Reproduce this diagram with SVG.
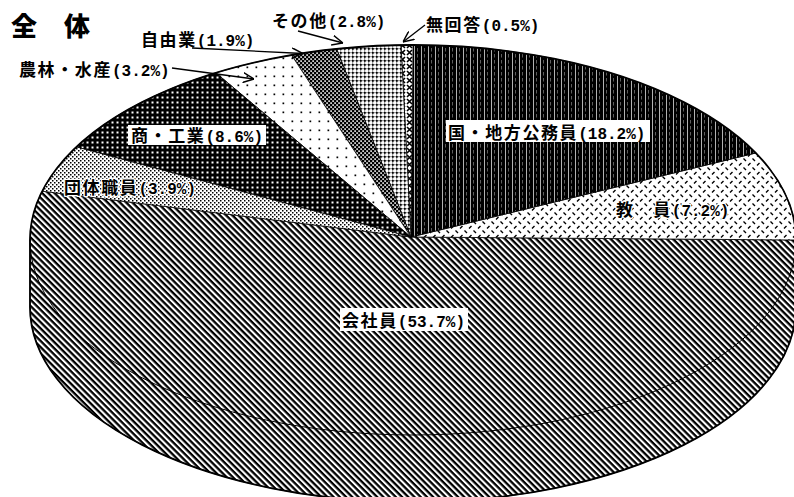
<svg xmlns="http://www.w3.org/2000/svg" width="794" height="497" viewBox="0 0 794 497">
<defs>
<pattern id="pKaisha" width="4.4" height="4.4" patternUnits="userSpaceOnUse" patternTransform="rotate(45)"><rect width="4.4" height="4.4" fill="#fff"/><rect width="4.4" height="2.3" fill="#000"/></pattern>
<pattern id="pKyoin" width="9" height="9" patternUnits="userSpaceOnUse"><rect width="9" height="9" fill="#fff"/><path d="M1,3.5 L3.5,1 M5.5,5.5 L8,8" stroke="#000" stroke-width="1.4" fill="none"/></pattern>
<pattern id="pKoumu" width="7" height="6" patternUnits="userSpaceOnUse"><rect width="7" height="6" fill="#000"/><rect x="1" width="0.7" height="6" fill="#fff"/><rect x="4.3" y="0" width="0.5" height="3.5" fill="#bbb"/></pattern>
<pattern id="pMukai" width="7" height="7" patternUnits="userSpaceOnUse"><rect width="7" height="7" fill="#fff"/><path d="M1,1 L6,6 M6,1 L1,6" stroke="#000" stroke-width="1.6"/></pattern>
<pattern id="pSonota" width="4" height="4" patternUnits="userSpaceOnUse"><rect width="4" height="4" fill="#fff"/><rect width="1.7" height="1.7" fill="#000"/><rect x="0" y="0.6" width="4" height="0.5" fill="#000"/><rect x="0.6" y="0" width="0.5" height="4" fill="#000"/></pattern>
<pattern id="pJiyu" width="4" height="4" patternUnits="userSpaceOnUse"><rect width="4" height="4" fill="#000"/><rect x="0.3" y="0.3" width="1.6" height="1.6" fill="#fff"/><rect x="2.3" y="2.3" width="1.6" height="1.6" fill="#fff"/></pattern>
<pattern id="pNorin" width="9" height="9" patternUnits="userSpaceOnUse"><rect width="9" height="9" fill="#fff"/><rect x="3.5" y="3.5" width="1.7" height="1.7" fill="#000"/></pattern>
<pattern id="pShoko" width="5" height="5" patternUnits="userSpaceOnUse"><rect width="5" height="5" fill="#000"/><rect x="1.5" y="1.5" width="2" height="2" fill="#fff"/></pattern>
<pattern id="pDantai" width="4" height="4" patternUnits="userSpaceOnUse"><rect width="4" height="4" fill="#fff"/><rect width="1.5" height="1.5" fill="#000"/><rect x="2" y="2" width="1.5" height="1.5" fill="#000"/></pattern>
<marker id="arr" viewBox="0 0 10 10" refX="10" refY="5" markerWidth="11" markerHeight="11" markerUnits="userSpaceOnUse" orient="auto"><path d="M0,0.5 L10,5 L0,9.5" fill="none" stroke="#000" stroke-width="1.3"/></marker>
</defs>
<style>
.slice{stroke:#000;stroke-width:0.8;stroke-linejoin:round}
.lbl{font-family:"Noto Sans CJK JP","Noto Sans CJK SC",sans-serif;font-weight:bold;font-size:17px;letter-spacing:1.6px;fill:#000}
.num{font-family:"Liberation Mono","DejaVu Sans Mono",monospace;font-weight:bold;font-size:16px;letter-spacing:0}
.halo{stroke:#fff;stroke-width:2.5px;paint-order:stroke;stroke-linejoin:round}
.box{fill:#fff}
.lead{stroke:#000;stroke-width:1.3;fill:none}
.title{font-family:"Noto Sans CJK JP","Noto Sans CJK SC",sans-serif;font-weight:900;font-size:26px;fill:#000}
</style>
<rect width="794" height="497" fill="#fff"/>
<text class="title" x="11 39 64" y="36">全 体</text>
<g id="slice-kaishain"><path class="slice" fill="url(#pKaisha)" d="M411,237 L42.2,191.2 A383,195 0 0,0 30,240 L30,307 A383,195 0 0,0 796,307 L796,240 Z"/></g>
<g id="slice-kyoin"><path class="slice" fill="url(#pKyoin)" d="M411,237 L796,240 A383,195 0 0,0 755.7,153 Z"/></g>
<g id="slice-koumuin"><path class="slice" fill="url(#pKoumu)" d="M411,237 L755.7,153 A383,195 0 0,0 413,45 Z"/></g>
<g id="slice-mukaito"><path class="slice" fill="url(#pMukai)" d="M411,237 L413,45 A383,195 0 0,0 401,45.1 Z"/></g>
<g id="slice-sonota"><path class="slice" fill="url(#pSonota)" d="M411,237 L401,45.1 A383,195 0 0,0 336.6,48.9 Z"/></g>
<g id="slice-jiyugyo"><path class="slice" fill="url(#pJiyu)" d="M411,237 L336.6,48.9 A383,195 0 0,0 291.5,55.1 Z"/></g>
<g id="slice-norin"><path class="slice" fill="url(#pNorin)" d="M411,237 L291.5,55.1 A383,195 0 0,0 215.8,72.8 Z"/></g>
<g id="slice-shoko"><path class="slice" fill="url(#pShoko)" d="M411,237 L215.8,72.8 A383,195 0 0,0 76.4,146.9 Z"/></g>
<g id="slice-dantai"><path class="slice" fill="url(#pDantai)" d="M411,237 L76.4,146.9 A383,195 0 0,0 42.2,191.2 Z"/></g>
<g id="outline">
<path d="M30,240 A383,195 0 0,0 796,240" fill="none" stroke="#000" stroke-width="1"/>
<path d="M30,240 A383,195 0 0,1 796,240 L796,307 A383,195 0 0,1 30,307 Z" fill="none" stroke="#000" stroke-width="1.8"/>
</g>
<g id="connectors">
<path class="lead" d="M192,48 L303,53.5" marker-end="url(#arr)"/>
<path class="lead" d="M172,68 L254,79" marker-end="url(#arr)"/>
<path class="lead" d="M298,31 L343,43" marker-end="url(#arr)"/>
<path class="lead" d="M425,25 L403,42" marker-end="url(#arr)"/>
</g>
<g id="label-koumuin"><rect class="box" x="446" y="120" width="204" height="22"/><text class="lbl" x="448" y="138.5">国・地方公務員<tspan class="num">(18.2%)</tspan></text></g>
<g id="label-kyoin"><text class="lbl halo" x="616" y="215.5">教　員<tspan class="num">(7.2%)</tspan></text></g>
<g id="label-kaishain"><rect class="box" x="340" y="308" width="128" height="23"/><text class="lbl" x="342" y="326.5">会社員<tspan class="num">(53.7%)</tspan></text></g>
<g id="label-shoko"><rect class="box" x="128" y="125" width="138" height="20"/><text class="lbl" x="131" y="142">商・工業<tspan class="num">(8.6%)</tspan></text></g>
<g id="label-dantai"><text class="lbl halo" x="64" y="194">団体職員<tspan class="num">(3.9%)</tspan></text></g>
<g id="label-norin"><text class="lbl" x="19" y="76">農林・水産<tspan class="num">(3.2%)</tspan></text></g>
<g id="label-jiyugyo"><text class="lbl" x="141" y="46">自由業<tspan class="num">(1.9%)</tspan></text></g>
<g id="label-sonota"><text class="lbl" x="272" y="27">その他<tspan class="num">(2.8%)</tspan></text></g>
<g id="label-mukaito"><text class="lbl" x="426" y="31">無回答<tspan class="num">(0.5%)</tspan></text></g>
</svg>
